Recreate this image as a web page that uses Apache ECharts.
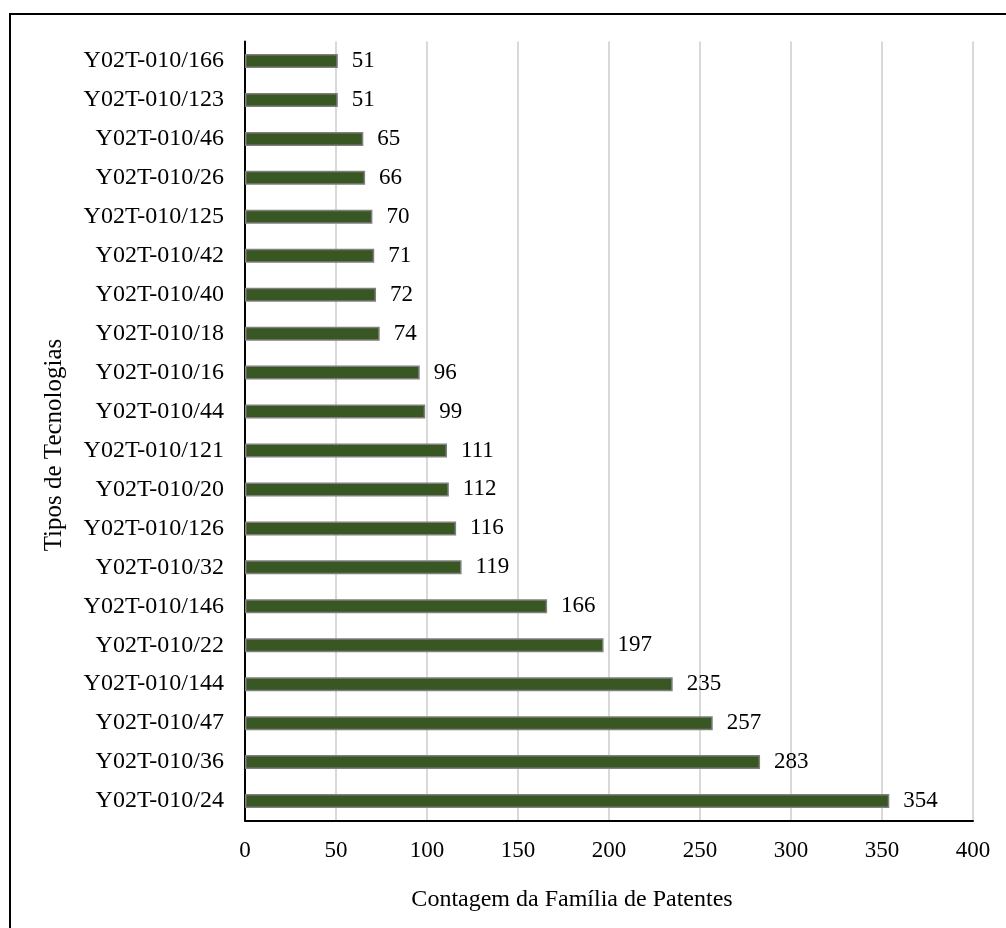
<!DOCTYPE html>
<html>
<head>
<meta charset="utf-8">
<script src="https://cdn.jsdelivr.net/npm/echarts@6/dist/echarts.min.js"></script>
<style>
html, body { margin: 0; padding: 0; background: #fff; }
#main { width: 1006px; height: 928px; }
</style>
</head>
<body>
<div id="main"></div>
<script>
// categorias de cima para baixo
var tecnologias = ['Y02T-010/166', 'Y02T-010/123', 'Y02T-010/46', 'Y02T-010/26', 'Y02T-010/125',
    'Y02T-010/42', 'Y02T-010/40', 'Y02T-010/18', 'Y02T-010/16', 'Y02T-010/44',
    'Y02T-010/121', 'Y02T-010/20', 'Y02T-010/126', 'Y02T-010/32', 'Y02T-010/146',
    'Y02T-010/22', 'Y02T-010/144', 'Y02T-010/47', 'Y02T-010/36', 'Y02T-010/24'];
var contagem = [51, 51, 65, 66, 70, 71, 72, 74, 96, 99, 111, 112, 116, 119, 166, 197, 235, 257, 283, 354];

var fonte = "'Liberation Serif', 'Times New Roman', serif";

var myChart = echarts.init(document.getElementById('main'));

var option = {
    backgroundColor: '#fff',
    animation: false,
    textStyle: { fontFamily: fonte, color: '#000' },
    graphic: [{
        type: 'rect',
        shape: { x: 10, y: 14, width: 1010, height: 930 },
        style: { fill: 'none', stroke: '#000', lineWidth: 2 },
        silent: true
    }],
    grid: { left: 245, right: 33, top: 41.5, bottom: 107.5 },
    xAxis: {
        type: 'value',
        min: 0,
        max: 400,
        interval: 50,
        name: 'Contagem da Família de Patentes',
        nameLocation: 'middle',
        nameGap: 67,
        nameTextStyle: { fontSize: 24, fontFamily: fonte, color: '#000', padding: [0, 74, 0, 0] },
        axisLine: { show: true, lineStyle: { color: '#000', width: 2 } },
        axisTick: { show: false },
        axisLabel: { fontSize: 23, fontFamily: fonte, color: '#000', margin: 19 },
        splitLine: { show: true, lineStyle: { color: '#d9d9d9', width: 2 } }
    },
    yAxis: {
        type: 'category',
        inverse: true,
        data: tecnologias,
        name: 'Tipos de Tecnologias',
        nameLocation: 'middle',
        nameGap: 178,
        nameTextStyle: { fontSize: 25, fontFamily: fonte, color: '#000', padding: [0, 28, 0, 0] },
        axisLine: { show: true, lineStyle: { color: '#000', width: 2 } },
        axisTick: { show: false },
        axisLabel: { fontSize: 24, fontFamily: fonte, color: '#000', margin: 21 }
    },
    series: [{
        type: 'bar',
        data: contagem,
        barWidth: 14,
        itemStyle: { color: '#385723', borderColor: '#7f7f7f', borderWidth: 1.5 },
        label: {
            show: true,
            position: 'right',
            distance: 14,
            fontSize: 23,
            fontFamily: fonte,
            color: '#000'
        }
    }]
};

myChart.setOption(option);
</script>
</body>
</html>
